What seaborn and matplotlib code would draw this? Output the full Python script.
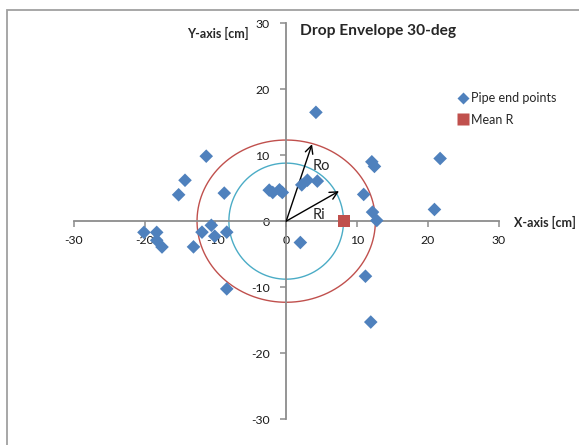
import numpy as np
import pandas as pd
import matplotlib
matplotlib.use("Agg")
import matplotlib.pyplot as plt
import seaborn as sns
from matplotlib.lines import Line2D
from matplotlib.patches import Rectangle

# ---- data ----
pipe_x = [4.2, -11.3, -14.3, -15.2, -8.75, -2.4, -1.9, -0.95, -0.55, 2.2, 3.0, 4.4,
          12.1, 12.47, 21.75, 10.95, 12.2, 12.8, 20.95, -20.1, -18.3, -18.3, -17.55,
          -13.1, -11.9, -10.58, -10.1, -8.4, 2.0, 11.2, -8.4, 11.95]
pipe_y = [16.5, 9.85, 6.2, 4.0, 4.25, 4.7, 4.35, 4.75, 4.35, 5.5, 6.2, 6.07,
          9.0, 8.3, 9.5, 4.05, 1.37, 0.1, 1.77, -1.7, -1.7, -2.9, -3.92,
          -3.9, -1.67, -0.63, -2.28, -1.67, -3.24, -8.35, -10.27, -15.3]
mean_r_x = [8.1]
mean_r_y = [0.0]
inner_radius = (8.1, 8.8)    # (x, y) radii as drawn
outer_radius = (12.6, 12.3)
ro_tip = (3.65, 11.67)
ri_tip = (7.46, 4.55)
ticks = [-30, -20, -10, 0, 10, 20, 30]
tick_labels = ["-30", "-20", "-10", "0", "10", "20", "30"]

sns.set_style("white")
plt.rcParams['font.family'] = ['Lato', 'DejaVu Sans']

W, H = 579, 445
fig = plt.figure(figsize=(W / 100, H / 100), dpi=100)
ax = fig.add_axes([73.9 / W, 1 - 419 / H, 424.6 / W, (419 - 23.3) / H])

# chart border
fig.patches.append(Rectangle((6.5 / W, -0.1), 1.2, 1 - 10.5 / H + 0.1, transform=fig.transFigure,
                             fill=False, edgecolor='#a0a0a0', linewidth=1.3))

blue = '#4F81BD'
red = '#C0504D'
cyan = '#4BACC6'

# circles
t = np.linspace(0, 2 * np.pi, 400)
circ = pd.DataFrame({
    'x': np.concatenate([outer_radius[0] * np.cos(t), inner_radius[0] * np.cos(t)]),
    'y': np.concatenate([outer_radius[1] * np.sin(t), inner_radius[1] * np.sin(t)]),
    'c': ['outer'] * len(t) + ['inner'] * len(t),
})
sns.lineplot(data=circ, x='x', y='y', hue='c', palette={'outer': red, 'inner': cyan},
             sort=False, estimator=None, linewidth=1.0, legend=False, ax=ax)

# arrows
for tip in (ro_tip, ri_tip):
    ax.annotate('', xy=tip, xytext=(0, 0),
                arrowprops=dict(arrowstyle='->', color='black', lw=1.0,
                                mutation_scale=14, shrinkA=0, shrinkB=0))
ax.text(4.9, 8.3, 'Ro', fontsize=10.5, ha='center', va='center')
ax.text(4.6, 0.95, 'Ri', fontsize=10.5, ha='center', va='center')

pts = pd.DataFrame({'x': pipe_x, 'y': pipe_y})
sns.scatterplot(data=pts, x='x', y='y', marker='D', s=48, color=blue, edgecolor='none',
                ax=ax, zorder=3)
mr = pd.DataFrame({'x': mean_r_x, 'y': mean_r_y})
sns.scatterplot(data=mr, x='x', y='y', marker='s', s=75, color=red, edgecolor='none',
                ax=ax, zorder=4)

ax.set_xlim(-30, 30)
ax.set_ylim(-30, 30)
ax.set_xlabel('')
ax.set_ylabel('')
ax.set_xticks(ticks)
ax.set_xticklabels(tick_labels)
ax.set_yticks(ticks)
ax.set_yticklabels(tick_labels)
for s in ['top', 'right']:
    ax.spines[s].set_visible(False)
ax.spines['left'].set_position('zero')
ax.spines['bottom'].set_position('zero')
for s in ['left', 'bottom']:
    ax.spines[s].set_color('#8c8c8c')
    ax.spines[s].set_linewidth(1.3)
ax.tick_params(axis='both', direction='out', length=4, width=1.1, color='#8c8c8c',
               labelsize=8.8, labelcolor='#1a1a1a')
ax.tick_params(axis='y', pad=8, left=True)
ax.tick_params(axis='x', pad=6, bottom=True)
ax.set_facecolor('none')
ax.patch.set_visible(False)

# titles
fig.text(300 / W, 1 - 31 / H, 'Drop Envelope 30-deg', fontsize=11.2, fontweight='bold',
         ha='left', va='center')
fig.text(249 / W, 1 - 33 / H, 'Y-axis [cm]', fontsize=9, fontweight='bold',
         ha='right', va='center')
fig.text(514 / W, 1 - 222 / H, 'X-axis [cm]', fontsize=9, fontweight='bold',
         ha='left', va='center')

# legend
handles = [Line2D([], [], marker='D', color=blue, linestyle='none', markersize=6.5,
                  markeredgecolor='none'),
           Line2D([], [], marker='s', color=red, linestyle='none', markersize=8,
                  markeredgecolor='none')]
fig.legend(handles, ['Pipe end points', 'Mean R'], loc='upper left',
           bbox_to_anchor=(452 / W, 1 - 86 / H), frameon=False, fontsize=9,
           handlelength=0.8, handletextpad=0.2, labelspacing=0.75, borderpad=0)

fig.savefig('out.png', dpi=100)
